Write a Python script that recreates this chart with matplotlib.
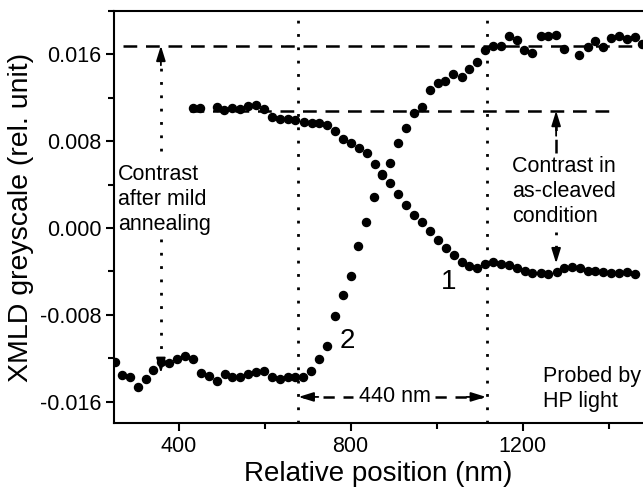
import matplotlib
matplotlib.use("Agg")
import matplotlib.pyplot as plt
from matplotlib.ticker import MultipleLocator, FormatStrFormatter

plt.rcParams['font.family'] = ['Liberation Sans', 'DejaVu Sans']

# curve 1: contrast in as-cleaved condition (decreasing)
x1 = [433, 451, 489, 506, 525, 543, 562, 580, 599, 617, 635, 654, 672, 691,
      710, 727, 745, 763, 783, 801, 820, 838, 856, 873, 892, 911, 929, 948,
      966, 985, 1003, 1021, 1040, 1058, 1076, 1095, 1113, 1132, 1150, 1169,
      1186, 1205, 1223, 1242, 1260, 1279, 1296, 1315, 1333, 1351, 1369, 1388,
      1406, 1424, 1443, 1462]
y1 = [0.01104, 0.01104, 0.01116, 0.01086, 0.01110, 0.01100, 0.01125, 0.01134,
      0.01100, 0.01024, 0.01003, 0.01003, 0.00994, 0.00981, 0.00966, 0.00972,
      0.00948, 0.00896, 0.00819, 0.00779, 0.00737, 0.00687, 0.00592, 0.00496,
      0.00411, 0.00314, 0.00216, 0.00124, 0.00053, -0.00032, -0.00110,
      -0.00184, -0.00253, -0.00312, -0.00351, -0.00366, -0.00335, -0.00314,
      -0.00329, -0.00338, -0.00366, -0.00397, -0.00415, -0.00418, -0.00423,
      -0.00409, -0.00366, -0.00363, -0.00366, -0.00395, -0.00397, -0.00406,
      -0.00415, -0.00412, -0.00406, -0.00427]

# curve 2: contrast after mild annealing (increasing)
x2 = [252, 268, 287, 305, 324, 341, 359, 379, 397, 415, 434, 452, 471, 489,
      507, 525, 543, 562, 580, 599, 617, 635, 654, 672, 690, 709, 727, 745,
      764, 783, 800, 818, 836, 855, 874, 892, 911, 929, 948, 966, 985, 1003,
      1020, 1039, 1058, 1076, 1095, 1113, 1131, 1150, 1169, 1186, 1204, 1222,
      1242, 1260, 1278, 1297, 1332, 1351, 1369, 1388, 1406, 1424, 1442, 1461,
      1478]
y2 = [-0.01233, -0.01355, -0.01376, -0.01462, -0.01392, -0.01309, -0.01233,
      -0.01247, -0.01211, -0.01178, -0.01211, -0.01339, -0.01364, -0.01407,
      -0.01348, -0.01376, -0.01376, -0.01346, -0.01330, -0.01318, -0.01370,
      -0.01394, -0.01376, -0.01370, -0.01376, -0.01315, -0.01205, -0.01086,
      -0.00813, -0.00620, -0.00439, -0.00164, 0.00055, 0.00285, 0.00491,
      0.00599, 0.00779, 0.00926, 0.01058, 0.01119, 0.01269, 0.01334, 0.01355,
      0.01416, 0.01392, 0.01462, 0.01532, 0.01637, 0.01673, 0.01673, 0.01768,
      0.01736, 0.01639, 0.01612, 0.01765, 0.01765, 0.01777, 0.01646, 0.01596,
      0.01667, 0.01725, 0.01667, 0.01754, 0.01768, 0.01743, 0.01756, 0.01697]

level_annealed = 0.0168
level_cleaved = 0.0108
edge_left = 677
edge_right = 1117

HEAD = '-|>,head_length=0.9,head_width=0.28'


def arrow_head(ax, x, y_from, y_to):
    # small solid arrow head pointing from y_from to y_to
    ax.annotate('', xy=(x, y_to), xytext=(x, y_from),
                arrowprops=dict(arrowstyle=HEAD, color='black', lw=1.3,
                                shrinkA=0, shrinkB=0))


def main():
    fig = plt.figure(figsize=(6.43, 4.91), dpi=100)
    ax = fig.add_axes([0.1773, 0.1379, 0.8227, 0.8397])

    dotted = (0, (1, 3.8))
    dashed = (0, (5.5, 3.5))

    # vertical dotted lines marking the edges
    for xe in (edge_left, edge_right):
        ax.axvline(xe, color='black', lw=2, linestyle=dotted)

    # horizontal dashed contrast levels
    ax.plot([270, 1480], [level_annealed, level_annealed], color='black',
            lw=1.8, linestyle=dashed)
    ax.plot([427, 1408], [level_cleaved, level_cleaved], color='black',
            lw=1.8, linestyle=dashed)

    # data points
    ax.plot(x1, y1, 'o', color='black', ms=5.8, zorder=3)
    ax.plot(x2, y2, 'o', color='black', ms=5.8, zorder=3)

    # left double arrow (after mild annealing)
    ax.plot([359, 359], [0.0071, 0.0158], color='black', lw=2, linestyle=dotted)
    arrow_head(ax, 359, 0.0150, level_annealed)
    ax.plot([359, 359], [-0.0010, -0.0123], color='black', lw=2, linestyle=dotted)
    arrow_head(ax, 359, -0.0120, -0.01337)

    # right double arrow (as-cleaved)
    ax.plot([1278, 1278], [0.0069, 0.0098], color='black', lw=1.8, linestyle=dashed)
    arrow_head(ax, 1278, 0.0085, level_cleaved)
    ax.plot([1278, 1278], [-0.0004, -0.0023], color='black', lw=2, linestyle=dotted)
    arrow_head(ax, 1278, -0.0020, -0.00326)

    # 440 nm arrow
    ya = -0.01557
    ax.plot([690, 806], [ya, ya], color='black', lw=1.8, linestyle=(0, (4.5, 3.5)))
    ax.plot([996, 1105], [ya, ya], color='black', lw=1.8, linestyle=(0, (4.5, 3.5)))
    ax.annotate('', xy=(edge_left + 2, ya), xytext=(725, ya),
                arrowprops=dict(arrowstyle=HEAD, color='black', lw=1.3,
                                shrinkA=0, shrinkB=0))
    ax.annotate('', xy=(edge_right - 2, ya), xytext=(1070, ya),
                arrowprops=dict(arrowstyle=HEAD, color='black', lw=1.3,
                                shrinkA=0, shrinkB=0))
    ax.text(903, ya, '440 nm', fontsize=15.5, ha='center', va='center')

    # annotations
    ax.text(259, 0.0059, 'Contrast\nafter mild\nannealing', fontsize=15.5,
            ha='left', va='top', linespacing=1.25)
    ax.text(1175, 0.0066, 'Contrast in\nas-cleaved\ncondition', fontsize=15.5,
            ha='left', va='top', linespacing=1.25)
    ax.text(1247, -0.0127, 'Probed by\nHP light', fontsize=15.5,
            ha='left', va='top', linespacing=1.25)
    ax.text(1027, -0.0050, '1', fontsize=20, ha='center', va='center')
    ax.text(792, -0.0104, '2', fontsize=20, ha='center', va='center')

    ax.set_xlim(250, 1480)
    ax.set_ylim(-0.018, 0.020)
    ax.xaxis.set_major_locator(MultipleLocator(400))
    ax.xaxis.set_minor_locator(MultipleLocator(200))
    ax.yaxis.set_major_locator(MultipleLocator(0.008))
    ax.yaxis.set_minor_locator(MultipleLocator(0.004))
    ax.yaxis.set_major_formatter(FormatStrFormatter('%.3f'))
    ax.tick_params(which='both', direction='out', width=1.5, labelsize=15.5,
                   top=False, right=False)
    ax.tick_params(which='major', length=5.5)
    ax.tick_params(which='minor', length=4)
    ax.spines['right'].set_visible(False)
    for s in ('left', 'bottom', 'top'):
        ax.spines[s].set_linewidth(1.5)

    ax.set_xlabel('Relative position (nm)', fontsize=20, labelpad=3)
    ax.set_ylabel('XMLD greyscale (rel. unit)', fontsize=20.5, labelpad=4)

    fig.savefig('out.png', dpi=100)


if __name__ == '__main__':
    main()
